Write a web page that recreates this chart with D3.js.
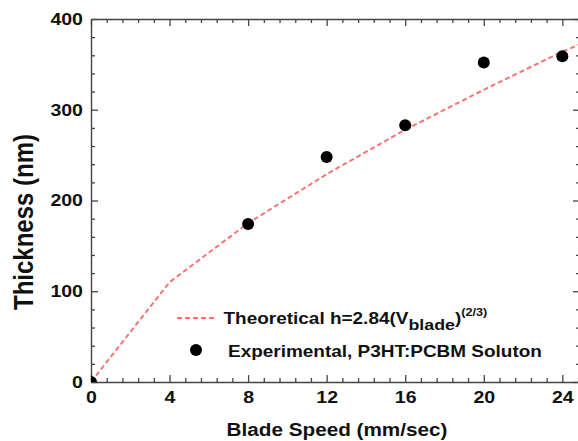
<!DOCTYPE html>
<html>
<head>
<meta charset="utf-8">
<script src="https://cdn.jsdelivr.net/npm/d3@7"></script>
<style>
  html, body { margin: 0; padding: 0; background: #fff; }
  svg { display: block; }
  text { font-family: "Liberation Sans", Arial, sans-serif; font-weight: bold; fill: #111; }
</style>
</head>
<body>
<script>
// Blade speed vs film thickness
const xTickValues = [0, 4, 8, 12, 16, 20, 24];
const yTickValues = [0, 100, 200, 300, 400];

// Experimental points (P3HT:PCBM solution)
const expSpeed = [0, 8, 12, 16, 20, 24];
const expThickness = [0, 174, 248, 283, 352, 359];

// Theoretical curve h = 2.84 (V_blade)^(2/3), sampled values
const theoSpeed = [0, 4, 8, 12, 16, 20, 24, 25];
const theoThickness = [0, 110, 175, 229, 278, 322, 364, 373];

const W = 578, H = 441;
const stretch = 1.15;

const svg = d3.select("body").append("svg")
  .attr("width", W).attr("height", H);

const x = d3.scaleLinear().domain([0, 24.9]).range([91, 580]);
const y = d3.scaleLinear().domain([0, 400]).range([382, 19]);

const [x0, x1] = x.range();
const [y0, y1] = y.range();

svg.append("defs").append("clipPath").attr("id", "plot")
  .append("rect").attr("x", x0).attr("y", y1)
  .attr("width", x1 - x0).attr("height", y0 - y1);

const axisColor = "#444";
const xMinor = d3.range(0, 32).map(i => +(i * 0.8).toFixed(2)).filter(v => v <= 24.9 && v % 4 !== 0);
const yMinor = d3.range(0, 401, 20).filter(v => v % 100 !== 0);

function styleAxis(g) {
  g.select(".domain").attr("stroke", axisColor).attr("stroke-width", 1.4);
  g.selectAll(".tick line").attr("stroke", axisColor).attr("stroke-width", 1.3);
  g.selectAll("text").style("font-size", "17px").attr("fill", "#111")
    .attr("font-family", null);
}

// Bottom axis
const gb = svg.append("g").attr("transform", `translate(0,${y0})`)
  .call(d3.axisBottom(x).tickValues(xTickValues).tickFormat(d3.format("d"))
    .tickSizeInner(-7).tickSizeOuter(0).tickPadding(9))
  .call(styleAxis);
gb.selectAll("text").attr("transform", `scale(${stretch},1)`);
svg.append("g").attr("transform", `translate(0,${y0})`)
  .call(d3.axisBottom(x).tickValues(xMinor).tickFormat("").tickSizeInner(-4).tickSizeOuter(0))
  .call(styleAxis).select(".domain").remove();

// Top axis
svg.append("g").attr("transform", `translate(0,${y1})`)
  .call(d3.axisTop(x).tickValues(xTickValues).tickFormat("").tickSizeInner(-7).tickSizeOuter(0))
  .call(styleAxis);
svg.append("g").attr("transform", `translate(0,${y1})`)
  .call(d3.axisTop(x).tickValues(xMinor).tickFormat("").tickSizeInner(-4).tickSizeOuter(0))
  .call(styleAxis).select(".domain").remove();

// Left axis
const gl = svg.append("g").attr("transform", `translate(${x0},0)`)
  .call(d3.axisLeft(y).tickValues(yTickValues).tickFormat(d3.format("d"))
    .tickSizeInner(-7).tickSizeOuter(0).tickPadding(7))
  .call(styleAxis);
gl.selectAll("text").attr("transform", `scale(${stretch},1)`);
svg.append("g").attr("transform", `translate(${x0},0)`)
  .call(d3.axisLeft(y).tickValues(yMinor).tickFormat("").tickSizeInner(-4).tickSizeOuter(0))
  .call(styleAxis).select(".domain").remove();

// Right axis
svg.append("g").attr("transform", `translate(${x1},0)`)
  .call(d3.axisRight(y).tickValues(yTickValues).tickFormat("").tickSizeInner(-7).tickSizeOuter(0))
  .call(styleAxis);
svg.append("g").attr("transform", `translate(${x1},0)`)
  .call(d3.axisRight(y).tickValues(yMinor).tickFormat("").tickSizeInner(-4).tickSizeOuter(0))
  .call(styleAxis).select(".domain").remove();

// Theoretical curve
const lineColor = "#f57575";
const theo = theoSpeed.map((v, i) => [v, theoThickness[i]]);
svg.append("path")
  .datum(theo)
  .attr("clip-path", "url(#plot)")
  .attr("fill", "none")
  .attr("stroke", lineColor)
  .attr("stroke-width", 2)
  .attr("stroke-dasharray", "5,3")
  .attr("d", d3.line().x(d => x(d[0])).y(d => y(d[1])));

// Experimental points
svg.append("g").attr("clip-path", "url(#plot)")
  .selectAll("circle")
  .data(expSpeed.map((v, i) => [v, expThickness[i]]))
  .join("circle")
  .attr("cx", d => x(d[0]))
  .attr("cy", d => y(d[1]))
  .attr("r", 6)
  .attr("fill", "#000");

// Legend
const leg = svg.append("g");
leg.append("line")
  .attr("x1", 177).attr("x2", 217).attr("y1", 318).attr("y2", 318)
  .attr("stroke", lineColor).attr("stroke-width", 2).attr("stroke-dasharray", "5,3");
const t1 = leg.append("text")
  .attr("transform", `translate(223.5,324) scale(${stretch},1)`)
  .style("font-size", "16.5px");
t1.append("tspan").text("Theoretical h=2.84(V");
t1.append("tspan").attr("dy", 6).style("font-size", "15.5px").text("blade");
t1.append("tspan").attr("dy", -6).text(")");
t1.append("tspan").attr("dy", -8).style("font-size", "11px").text("(2/3)");

leg.append("circle").attr("cx", 196).attr("cy", 350).attr("r", 6).attr("fill", "#000");
leg.append("text")
  .attr("transform", `translate(228,357) scale(${stretch},1)`)
  .style("font-size", "16.5px")
  .text("Experimental, P3HT:PCBM Soluton");

// Axis titles
svg.append("text")
  .attr("transform", `translate(337,436) scale(${stretch - 0.03},1)`)
  .attr("text-anchor", "middle")
  .style("font-size", "18.5px")
  .text("Blade Speed (mm/sec)");

svg.append("text")
  .attr("transform", `translate(33,222) rotate(-90) scale(1,${stretch})`)
  .attr("text-anchor", "middle")
  .style("font-size", "24px")
  .text("Thickness (nm)");
</script>
</body>
</html>
